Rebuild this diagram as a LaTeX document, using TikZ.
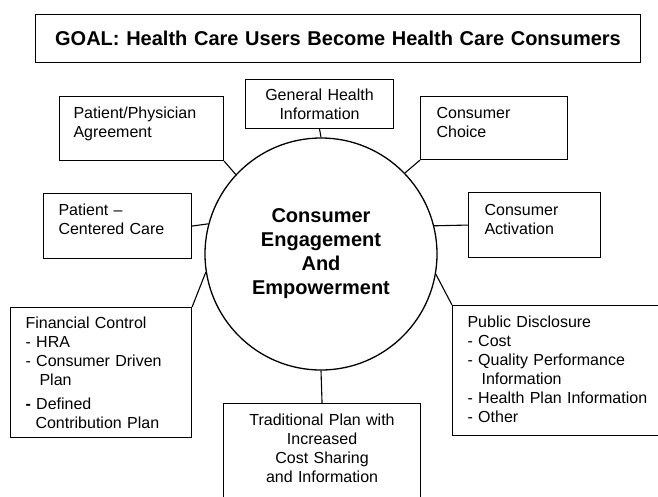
\documentclass[tikz,border=0pt]{standalone}
\usepackage{fontspec}
\setmainfont{Liberation Sans}
\begin{document}
\begin{tikzpicture}[x=1pt,y=1pt]
\tikzstyle{every node}+=[inner sep=0pt]
\tikzstyle{box}=[draw, rectangle, line width=1.1pt, anchor=north west, align=left, font=\fontsize{16}{19}\selectfont]
\tikzstyle{link}=[line width=1.1pt]
\useasboundingbox (0,0) rectangle (658,-496);
\clip (0,0) rectangle (658,-496);
% goal
\node [box, align=center, inner xsep=0pt, text width=605pt, text height=31pt, text depth=17pt, font=\fontsize{20}{24}\selectfont\bfseries] (goal) at (35,-14) {GOAL: Health Care Users Become Health Care Consumers};
% centre
\node [draw, circle, line width=1.3pt, minimum size=232pt, align=center, font=\fontsize{20}{24}\selectfont\bfseries] (core) at (321,-254) {Consumer\\Engagement\\And\\Empowerment};
% boxes round it
\node [box, inner xsep=14pt, text width=136pt, text height=22pt, text depth=42pt] (ppa) at (59,-96) {Patient/Physician\\Agreement};
\node [box, align=center, inner xsep=0pt, text width=148pt, text height=21pt, text depth=28pt] (ghi) at (245,-79) {General Health\\Information};
\node [box, inner xsep=16pt, text width=115pt, text height=22pt, text depth=41pt] (cc) at (420,-96) {Consumer\\Choice};
\node [box, inner xsep=15pt, text width=118pt, text height=22pt, text depth=43pt] (pcc) at (43,-193) {Patient --\\Centered Care};
\node [box, inner xsep=16pt, text width=100pt, text height=23pt, text depth=42pt] (ca) at (468,-192) {Consumer\\Activation};
\node [box, inner xsep=15pt, text width=151pt, text height=21pt, text depth=109pt] (fc) at (10,-307) {Financial Control\\- HRA\\- Consumer Driven\\\hspace*{14pt}Plan\\[5pt]\textbf{-} Defined\\\hspace*{10pt}Contribution Plan};
\node [box, inner xsep=15pt, text width=198pt, text height=22pt, text depth=108pt] (pd) at (452,-305) {Public Disclosure\\- Cost\\- Quality Performance\\\hspace*{14pt}Information\\- Health Plan Information\\- Other};
\node [box, align=center, inner xsep=0pt, text width=197pt, text height=22pt, text depth=100pt] (tp) at (223,-403) {Traditional Plan with\\Increased\\Cost Sharing\\and Information};
% links
\draw [link] (ppa.south east) -- (core.137);
\draw [link] (ghi.south) -- (core.north);
\draw [link] (cc.south west) -- (core.44);
\draw [link] (pcc.east) -- (core.165.5);
\draw [link] (ca.west) -- (core.14.7);
\draw [link] (fc.north east) -- (core.189.5);
\draw [link] (pd.north west) -- (core.350.5);
\draw [link] (tp.north) -- (core.south);
\end{tikzpicture}
\end{document}
